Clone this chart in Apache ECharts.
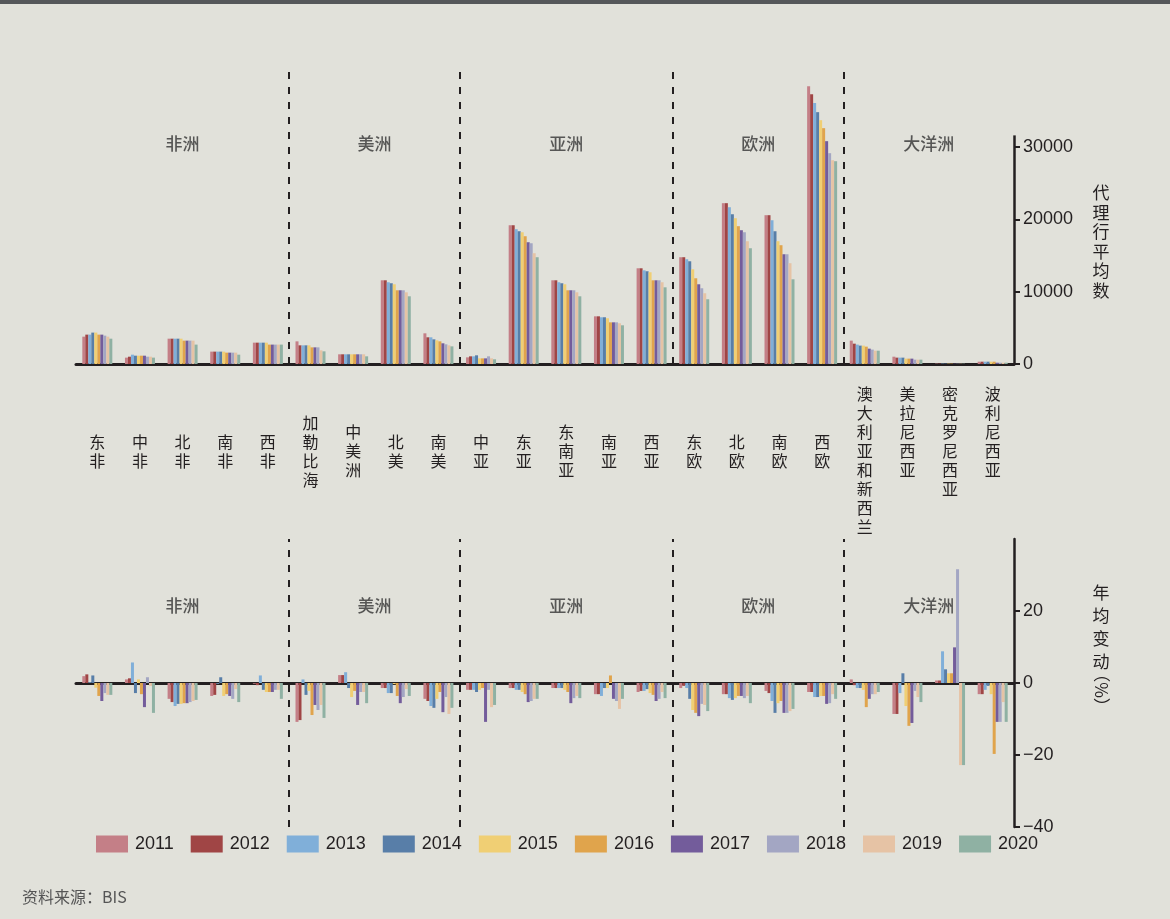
<!DOCTYPE html>
<html>
<head>
<meta charset="utf-8">
<script src="https://cdn.jsdelivr.net/npm/echarts@6/dist/echarts.min.js"></script>
<style>
html, body { margin: 0; padding: 0; background: #e1e1da; }
#chart { width: 1170px; height: 919px; }
</style>
</head>
<body>
<div id="chart"></div>
<script>
// 地区与年份
var categories = ['东非', '中非', '北非', '南非', '西非', '加勒比海', '中美洲', '北美', '南美',
  '中亚', '东亚', '东南亚', '南亚', '西亚', '东欧', '北欧', '南欧', '西欧',
  '澳大利亚和新西兰', '美拉尼西亚', '密克罗尼西亚', '波利尼西亚'];
var years = ['2011', '2012', '2013', '2014', '2015', '2016', '2017', '2018', '2019', '2020'];
var regions = ['非洲', '美洲', '亚洲', '欧洲', '大洋洲'];
var regionBounds = [0, 5, 9, 14, 18, 22];
var countTicks = [0, 10000, 20000, 30000];
var changeTicks = [-40, -20, 0, 20];

// 代理行平均数，每行一个地区，2011-2020
var agents = [
  [3780, 4060, 4060, 4340, 4340, 4060, 4060, 3920, 3780, 3500],
  [880, 1010, 1290, 1150, 1150, 1150, 1150, 1010, 1010, 880],
  [3500, 3500, 3500, 3500, 3500, 3230, 3230, 3230, 3230, 2680],
  [1710, 1710, 1710, 1710, 1710, 1570, 1570, 1570, 1570, 1290],
  [2950, 2950, 2950, 2950, 2950, 2680, 2680, 2680, 2680, 2680],
  [3130, 2580, 2580, 2580, 2580, 2300, 2300, 2300, 1890, 1750],
  [1340, 1340, 1340, 1340, 1340, 1340, 1340, 1340, 1340, 1060],
  [11570, 11570, 11300, 11160, 11020, 10190, 10190, 10190, 9910, 9360],
  [4240, 3690, 3690, 3410, 3270, 3130, 2860, 2720, 2580, 2440],
  [920, 1060, 1060, 1200, 780, 780, 780, 1060, 780, 650],
  [19180, 19180, 18630, 18350, 18210, 17660, 16830, 16690, 15310, 14760],
  [11570, 11570, 11300, 11160, 11020, 10190, 10190, 10190, 9910, 9360],
  [6590, 6590, 6460, 6460, 6320, 5760, 5760, 5760, 5630, 5350],
  [13230, 13230, 12950, 12820, 12680, 11570, 11570, 11570, 11300, 10600],
  [14760, 14760, 14480, 14200, 13090, 11850, 11020, 10470, 9780, 8950],
  [22230, 22230, 21670, 20700, 20150, 19050, 18490, 18210, 16970, 16000],
  [20570, 20570, 19870, 18350, 16970, 16420, 15170, 15170, 13930, 11710],
  [38400, 37300, 36060, 34810, 33700, 32600, 30800, 29140, 28170, 28030],
  [3230, 2810, 2680, 2540, 2540, 2400, 2120, 1990, 1840, 1840],
  [1010, 880, 880, 880, 740, 740, 740, 600, 600, 600],
  [50, 50, 50, 50, 50, 50, 40, 40, 40, 40],
  [320, 320, 320, 320, 320, 320, 180, 180, 180, 180]
];

// 年均变动（%）
var changes = [
  [1.9, 2.4, 0.2, 2.1, -1.3, -3.6, -5.0, -2.8, -3.3, -3.3],
  [1.0, 1.3, 5.7, -2.8, 1.0, -3.1, -6.7, 1.6, -0.8, -8.3],
  [-4.4, -5.3, -6.4, -5.8, -5.8, -5.6, -5.6, -5.3, -5.0, -4.7],
  [-3.6, -3.3, -0.2, 1.6, -3.6, -3.1, -3.6, -4.4, -1.7, -5.3],
  [-0.2, -0.6, 2.1, -1.9, -2.5, -2.5, -2.5, -1.9, -1.9, -4.4],
  [-10.8, -10.3, 1.0, -3.3, -2.2, -8.9, -6.1, -7.5, -6.1, -9.7],
  [2.2, 2.2, 3.0, -1.4, -3.9, -2.2, -6.1, -2.5, -2.5, -5.6],
  [-1.4, -1.4, -2.8, -2.8, -0.3, -3.6, -5.6, -3.9, -1.7, -3.6],
  [-4.4, -5.0, -6.4, -6.9, -4.4, -2.5, -8.1, -3.9, -8.6, -6.9],
  [-1.9, -1.9, -1.9, -2.5, -1.9, -1.4, -10.8, -1.9, -6.7, -6.1],
  [-1.4, -1.4, -1.9, -1.9, -2.5, -3.1, -5.3, -5.0, -4.4, -4.4],
  [-1.4, -1.4, -1.4, -1.4, -1.9, -2.5, -5.6, -4.2, -3.6, -4.2],
  [-3.1, -3.1, -3.6, -1.4, -1.4, 2.1, -4.4, -5.0, -7.2, -4.4],
  [-2.5, -2.2, -2.2, -1.7, -2.8, -3.3, -5.0, -4.4, -2.5, -4.2],
  [-1.4, -0.8, -1.4, -4.4, -7.5, -8.3, -9.2, -5.8, -6.1, -7.8],
  [-3.1, -3.1, -4.2, -4.7, -4.2, -3.6, -3.6, -4.2, -3.6, -5.6],
  [-2.2, -2.8, -5.0, -8.3, -5.6, -5.0, -8.3, -8.3, -7.8, -7.2],
  [-2.5, -2.5, -3.9, -3.9, -3.6, -3.6, -5.8, -5.6, -3.1, -4.4],
  [1.0, -0.6, -1.4, -1.4, -1.9, -6.7, -4.4, -3.1, -3.1, -2.5],
  [-8.6, -8.6, -2.8, 2.7, -6.4, -11.9, -11.1, -2.2, -3.9, -5.3],
  [0.7, 0.7, 8.8, 3.8, 2.7, 2.7, 9.9, 31.6, -22.8, -22.8],
  [-3.1, -3.1, -1.9, -0.8, -3.1, -19.7, -10.8, -10.8, -5.3, -10.8]
];

var colors = ['#c47f87', '#a04545', '#80afd9', '#587ea8', '#f0cf74',
  '#e0a44c', '#735c9b', '#a3a6c3', '#e6c3a5', '#8fb1a3'];

var ink = '#231f20';
var numFont = 'Liberation Sans';
var cjkFont = 'Noto Sans CJK SC';

var chart = echarts.init(document.getElementById('chart'));

function vertical(s) {
  return s.split('').join('\n');
}

// 分区虚线和分区名
function regionSeries(xIdx, yIdx, labelY, axisTop) {
  var lines = regionBounds.slice(1, -1).map(function (b) { return { xAxis: b }; });
  if (axisTop != null) {
    lines.push([
      { coord: [22, 0], lineStyle: { type: 'solid', width: 2.5 } },
      { coord: [22, axisTop] }
    ]);
  }
  return {
    type: 'scatter',
    xAxisIndex: xIdx,
    yAxisIndex: yIdx,
    silent: true,
    symbolSize: 0,
    data: regions.map(function (r, i) {
      return { name: r, value: [(regionBounds[i] + regionBounds[i + 1]) / 2, labelY] };
    }),
    label: {
      show: true,
      position: 'inside',
      formatter: '{b}',
      color: '#333',
      fontSize: 17,
      fontWeight: 500,
      fontFamily: cjkFont
    },
    markLine: {
      silent: true,
      symbol: 'none',
      label: { show: false },
      lineStyle: { type: [7, 8], color: ink, width: 2 },
      data: lines
    }
  };
}

var series = [];
years.forEach(function (y, k) {
  series.push({
    name: y,
    type: 'bar',
    xAxisIndex: 0,
    yAxisIndex: 0,
    barWidth: 3,
    barGap: '0%',
    itemStyle: { color: colors[k] },
    data: agents.map(function (r) { return r[k]; })
  });
});
years.forEach(function (y, k) {
  series.push({
    name: y,
    type: 'bar',
    xAxisIndex: 1,
    yAxisIndex: 1,
    barWidth: 3,
    barGap: '0%',
    itemStyle: { color: colors[k] },
    data: changes.map(function (r) { return r[k]; })
  });
});
series.push(regionSeries(2, 0, 30500, 31600));
series.push(regionSeries(3, 1, 21.6, null));

var nameStyle = { fill: ink, fontSize: 17, fontFamily: cjkFont, align: 'center' };

chart.setOption({
  animation: false,
  backgroundColor: '#e1e1da',
  textStyle: { fontFamily: cjkFont },
  graphic: [
    {
      type: 'rect', left: 0, top: 0,
      shape: { width: 1170, height: 4 },
      style: { fill: '#55575a' }
    },
    // 坐标轴名称
    {
      type: 'text', x: 1101, y: 183,
      style: Object.assign({ text: vertical('代理行平均数'), lineHeight: 19.5, verticalAlign: 'top' }, nameStyle)
    },
    {
      type: 'text', x: 1101, y: 581,
      style: Object.assign({ text: vertical('年均变动'), lineHeight: 23, verticalAlign: 'top' }, nameStyle)
    },
    {
      type: 'text', x: 1101, y: 690, rotation: -Math.PI / 2,
      style: Object.assign({ text: '（%）', verticalAlign: 'middle' }, nameStyle)
    }
  ],
  title: {
    text: '资料来源：BIS',
    left: 22,
    top: 889,
    padding: 0,
    textStyle: { fontSize: 16, fontWeight: 'normal', color: '#555', fontFamily: cjkFont }
  },
  legend: {
    data: years,
    left: 96,
    top: 835,
    padding: 0,
    icon: 'rect',
    itemWidth: 32,
    itemHeight: 17,
    itemGap: 17,
    selectedMode: false,
    textStyle: { fontSize: 18, color: ink, fontFamily: numFont, padding: [0, 0, 0, 2] }
  },
  grid: [
    { left: 76, right: 156, top: 71, bottom: 555 },
    { left: 76, right: 156, top: 539, bottom: 92 }
  ],
  xAxis: [
    {
      gridIndex: 0,
      type: 'category',
      data: categories.map(function (c, i) {
        // 大洋洲的标签顶端对齐，其余居中
        var pad = i >= 18 ? 0 : 67 - 9.5 * c.length;
        return { value: c, textStyle: { padding: [pad, 0, 0, 0] } };
      }),
      axisTick: { show: false },
      axisLine: { lineStyle: { color: ink, width: 3 } },
      axisLabel: {
        interval: 0,
        margin: 20,
        fontSize: 16,
        lineHeight: 19,
        color: ink,
        verticalAlign: 'top',
        formatter: vertical
      }
    },
    {
      gridIndex: 1,
      type: 'category',
      data: categories,
      axisTick: { show: false },
      axisLabel: { show: false },
      axisLine: { lineStyle: { color: ink, width: 3 } }
    },
    { gridIndex: 0, type: 'value', min: 0, max: 22, show: false },
    { gridIndex: 1, type: 'value', min: 0, max: 22, show: false }
  ],
  yAxis: [
    {
      gridIndex: 0,
      type: 'value',
      position: 'right',
      min: 0,
      max: 40500,
      splitLine: { show: false },
      axisLine: { show: false, onZero: false },
      axisTick: { show: true, customValues: countTicks, length: 6, lineStyle: { color: ink, width: 2 } },
      axisLabel: {
        customValues: countTicks,
        formatter: function (v) { return String(v); },
        color: ink, fontSize: 18, margin: 9, fontFamily: numFont
      }
    },
    {
      gridIndex: 1,
      type: 'value',
      position: 'right',
      min: -40,
      max: 40,
      splitLine: { show: false },
      axisLine: { show: true, onZero: false, lineStyle: { color: ink, width: 2.5 } },
      axisTick: { show: true, customValues: changeTicks, length: 6, lineStyle: { color: ink, width: 2 } },
      axisLabel: {
        customValues: changeTicks,
        formatter: function (v) { return String(v).replace('-', '\u2212'); },
        color: ink, fontSize: 18, margin: 9, fontFamily: numFont
      }
    }
  ],
  series: series
});
</script>
</body>
</html>
